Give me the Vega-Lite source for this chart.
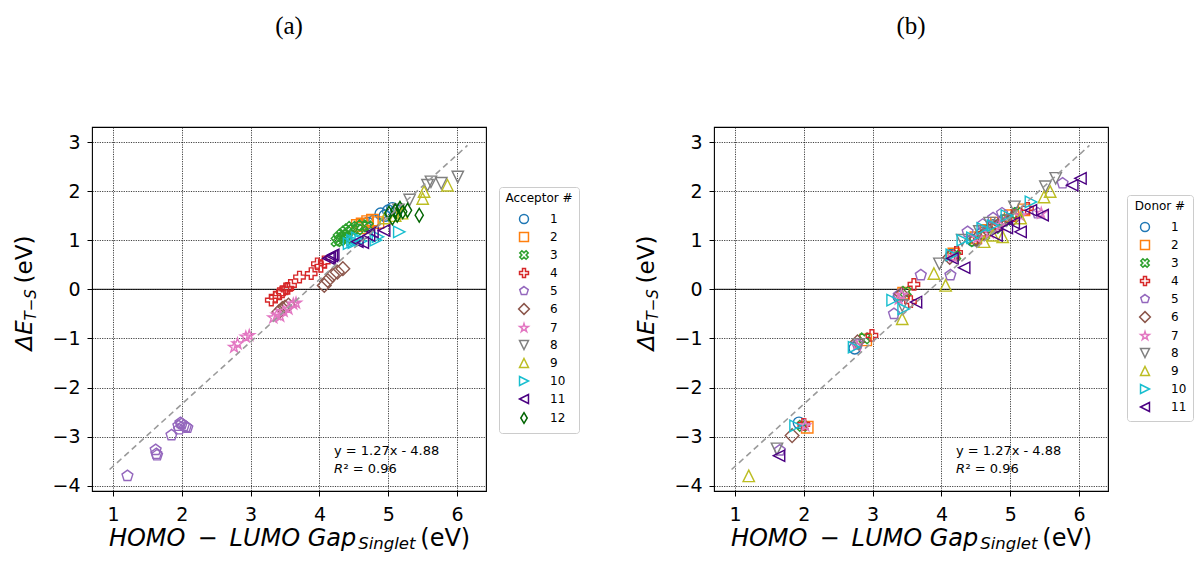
{
  "$schema": "https://vega.github.io/schema/vega-lite/v6.json",
  "padding": {"left": 13, "top": 13, "right": 0, "bottom": 0},
  "background": "white",
  "bounds": "flush",
  "spacing": 228,
  "datasets": {
    "a": [
      {"x":4.8,"y":1.4,"g":"1"},{"x":4.89,"y":1.54,"g":"1"},{"x":4.95,"y":1.5,"g":"1"},{"x":5.0,"y":1.6,"g":"1"},{"x":5.06,"y":1.65,"g":"1"},{"x":5.12,"y":1.6,"g":"1"},{"x":4.7,"y":1.35,"g":"1"},
      {"x":4.55,"y":1.3,"g":"2"},{"x":4.62,"y":1.33,"g":"2"},{"x":4.7,"y":1.38,"g":"2"},{"x":4.77,"y":1.41,"g":"2"},{"x":4.85,"y":1.36,"g":"2"},{"x":4.6,"y":1.25,"g":"2"},
      {"x":4.25,"y":0.98,"g":"3"},{"x":4.28,"y":1.05,"g":"3"},{"x":4.3,"y":1.0,"g":"3"},{"x":4.33,"y":1.12,"g":"3"},{"x":4.36,"y":1.08,"g":"3"},{"x":4.38,"y":1.18,"g":"3"},{"x":4.42,"y":1.22,"g":"3"},{"x":4.47,"y":1.27,"g":"3"},{"x":4.55,"y":1.22,"g":"3"},{"x":4.62,"y":1.3,"g":"3"},{"x":4.7,"y":1.28,"g":"3"},{"x":4.4,"y":1.05,"g":"3"},
      {"x":3.30,"y":-0.22,"g":"4"},{"x":3.36,"y":-0.16,"g":"4"},{"x":3.42,"y":-0.09,"g":"4"},{"x":3.46,"y":-0.05,"g":"4"},{"x":3.51,"y":0.01,"g":"4"},{"x":3.54,"y":0.02,"g":"4"},{"x":3.58,"y":0.08,"g":"4"},{"x":3.71,"y":0.25,"g":"4"},{"x":3.88,"y":0.32,"g":"4"},{"x":3.97,"y":0.52,"g":"4"},{"x":4.07,"y":0.56,"g":"4"},{"x":4.02,"y":0.47,"g":"4"},
      {"x":1.21,"y":-3.8,"g":"5"},{"x":1.62,"y":-3.27,"g":"5"},{"x":1.63,"y":-3.35,"g":"5"},{"x":1.64,"y":-3.38,"g":"5"},{"x":1.85,"y":-2.97,"g":"5"},{"x":1.95,"y":-2.78,"g":"5"},{"x":1.98,"y":-2.72,"g":"5"},{"x":2.0,"y":-2.74,"g":"5"},{"x":2.03,"y":-2.78,"g":"5"},{"x":2.06,"y":-2.8,"g":"5"},{"x":2.08,"y":-2.82,"g":"5"},{"x":1.96,"y":-2.85,"g":"5"},
      {"x":3.41,"y":-0.46,"g":"6"},{"x":3.46,"y":-0.39,"g":"6"},{"x":3.5,"y":-0.36,"g":"6"},{"x":3.55,"y":-0.32,"g":"6"},{"x":4.07,"y":0.08,"g":"6"},{"x":4.12,"y":0.18,"g":"6"},{"x":4.19,"y":0.29,"g":"6"},{"x":4.26,"y":0.35,"g":"6"},{"x":4.34,"y":0.42,"g":"6"},
      {"x":2.76,"y":-1.18,"g":"7"},{"x":2.81,"y":-1.11,"g":"7"},{"x":2.93,"y":-0.97,"g":"7"},{"x":2.98,"y":-0.94,"g":"7"},{"x":3.33,"y":-0.58,"g":"7"},{"x":3.38,"y":-0.52,"g":"7"},{"x":3.43,"y":-0.55,"g":"7"},{"x":3.48,"y":-0.45,"g":"7"},{"x":3.55,"y":-0.4,"g":"7"},{"x":3.62,"y":-0.3,"g":"7"},{"x":3.66,"y":-0.28,"g":"7"},
      {"x":5.15,"y":1.62,"g":"8"},{"x":5.31,"y":1.82,"g":"8"},{"x":5.57,"y":2.12,"g":"8"},{"x":5.62,"y":2.19,"g":"8"},{"x":5.77,"y":2.16,"g":"8"},{"x":6.01,"y":2.29,"g":"8"},
      {"x":4.95,"y":1.45,"g":"9"},{"x":5.1,"y":1.5,"g":"9"},{"x":5.2,"y":1.55,"g":"9"},{"x":5.5,"y":1.85,"g":"9"},{"x":5.52,"y":1.99,"g":"9"},{"x":5.86,"y":2.12,"g":"9"},
      {"x":4.43,"y":0.93,"g":"10"},{"x":4.48,"y":1.0,"g":"10"},{"x":4.5,"y":0.95,"g":"10"},{"x":4.55,"y":1.05,"g":"10"},{"x":4.6,"y":0.98,"g":"10"},{"x":4.82,"y":1.0,"g":"10"},{"x":4.85,"y":1.07,"g":"10"},{"x":5.16,"y":1.17,"g":"10"},
      {"x":4.13,"y":0.63,"g":"11"},{"x":4.15,"y":0.65,"g":"11"},{"x":4.18,"y":0.68,"g":"11"},{"x":4.2,"y":0.7,"g":"11"},{"x":4.55,"y":0.97,"g":"11"},{"x":4.63,"y":0.95,"g":"11"},{"x":4.72,"y":1.1,"g":"11"},{"x":4.77,"y":1.17,"g":"11"},{"x":4.94,"y":1.2,"g":"11"},
      {"x":5.01,"y":1.55,"g":"12"},{"x":5.06,"y":1.45,"g":"12"},{"x":5.1,"y":1.6,"g":"12"},{"x":5.13,"y":1.51,"g":"12"},{"x":5.17,"y":1.65,"g":"12"},{"x":5.21,"y":1.58,"g":"12"},{"x":5.28,"y":1.61,"g":"12"},{"x":5.45,"y":1.51,"g":"12"}
    ],
    "b": [
      {"x":1.93,"y":-2.72,"g":"1"},{"x":2.74,"y":-1.2,"g":"1"},{"x":3.38,"y":-0.15,"g":"1"},{"x":4.15,"y":0.7,"g":"1"},{"x":4.45,"y":1.0,"g":"1"},{"x":4.6,"y":1.15,"g":"1"},{"x":4.75,"y":1.3,"g":"1"},{"x":4.9,"y":1.4,"g":"1"},{"x":5.1,"y":1.55,"g":"1"},
      {"x":2.05,"y":-2.81,"g":"2"},{"x":2.9,"y":-1.03,"g":"2"},{"x":3.45,"y":-0.08,"g":"2"},{"x":4.18,"y":0.72,"g":"2"},{"x":4.5,"y":1.05,"g":"2"},{"x":4.65,"y":1.2,"g":"2"},{"x":4.8,"y":1.35,"g":"2"},{"x":5.0,"y":1.5,"g":"2"},{"x":5.2,"y":1.62,"g":"2"},
      {"x":1.98,"y":-2.78,"g":"3"},{"x":2.88,"y":-1.0,"g":"3"},{"x":3.48,"y":-0.05,"g":"3"},{"x":4.2,"y":0.68,"g":"3"},{"x":4.48,"y":0.98,"g":"3"},{"x":4.62,"y":1.1,"g":"3"},{"x":4.78,"y":1.25,"g":"3"},{"x":4.95,"y":1.42,"g":"3"},{"x":5.1,"y":1.55,"g":"3"},
      {"x":2.0,"y":-2.75,"g":"4"},{"x":2.99,"y":-0.94,"g":"4"},{"x":3.6,"y":0.1,"g":"4"},{"x":3.55,"y":-0.25,"g":"4"},{"x":4.22,"y":0.75,"g":"4"},{"x":4.55,"y":1.05,"g":"4"},{"x":4.7,"y":1.2,"g":"4"},{"x":4.85,"y":1.35,"g":"4"},{"x":5.05,"y":1.5,"g":"4"},{"x":5.25,"y":1.65,"g":"4"},
      {"x":1.65,"y":-3.28,"g":"5"},{"x":2.78,"y":-1.12,"g":"5"},{"x":3.31,"y":-0.5,"g":"5"},{"x":3.38,"y":-0.12,"g":"5"},{"x":3.7,"y":0.29,"g":"5"},{"x":4.13,"y":0.29,"g":"5"},{"x":4.38,"y":1.17,"g":"5"},{"x":4.6,"y":1.32,"g":"5"},{"x":4.75,"y":1.45,"g":"5"},{"x":4.88,"y":1.55,"g":"5"},{"x":5.4,"y":1.55,"g":"5"},{"x":5.76,"y":2.16,"g":"5"},
      {"x":1.83,"y":-2.98,"g":"6"},{"x":2.78,"y":-1.07,"g":"6"},{"x":3.42,"y":-0.1,"g":"6"},{"x":4.12,"y":0.65,"g":"6"},{"x":4.5,"y":1.02,"g":"6"},{"x":4.68,"y":1.2,"g":"6"},{"x":4.82,"y":1.3,"g":"6"},{"x":5.05,"y":1.45,"g":"6"},
      {"x":2.02,"y":-2.78,"g":"7"},{"x":2.77,"y":-1.15,"g":"7"},{"x":3.38,"y":-0.2,"g":"7"},{"x":3.42,"y":-0.12,"g":"7"},{"x":4.17,"y":0.66,"g":"7"},{"x":4.52,"y":1.05,"g":"7"},{"x":4.7,"y":1.15,"g":"7"},{"x":4.85,"y":1.3,"g":"7"},{"x":5.15,"y":1.5,"g":"7"},{"x":5.45,"y":1.55,"g":"7"},
      {"x":1.61,"y":-3.25,"g":"8"},{"x":2.8,"y":-1.12,"g":"8"},{"x":3.43,"y":-0.33,"g":"8"},{"x":3.97,"y":0.52,"g":"8"},{"x":4.3,"y":1.0,"g":"8"},{"x":4.55,"y":1.18,"g":"8"},{"x":4.7,"y":1.35,"g":"8"},{"x":4.95,"y":1.4,"g":"8"},{"x":5.06,"y":1.68,"g":"8"},{"x":5.51,"y":2.09,"g":"8"},{"x":5.66,"y":2.26,"g":"8"},
      {"x":1.2,"y":-3.8,"g":"9"},{"x":3.43,"y":-0.6,"g":"9"},{"x":3.89,"y":0.32,"g":"9"},{"x":4.06,"y":0.08,"g":"9"},{"x":4.62,"y":0.97,"g":"9"},{"x":4.75,"y":1.1,"g":"9"},{"x":4.89,"y":1.07,"g":"9"},{"x":5.15,"y":1.45,"g":"9"},{"x":5.49,"y":1.88,"g":"9"},{"x":5.58,"y":1.99,"g":"9"},
      {"x":1.88,"y":-2.78,"g":"10"},{"x":2.73,"y":-1.18,"g":"10"},{"x":3.29,"y":-0.22,"g":"10"},{"x":3.45,"y":-0.4,"g":"10"},{"x":4.15,"y":0.7,"g":"10"},{"x":4.31,"y":1.0,"g":"10"},{"x":4.45,"y":1.05,"g":"10"},{"x":4.6,"y":1.24,"g":"10"},{"x":4.75,"y":1.3,"g":"10"},{"x":4.95,"y":1.5,"g":"10"},{"x":5.3,"y":1.78,"g":"10"},
      {"x":1.64,"y":-3.39,"g":"11"},{"x":3.63,"y":-0.26,"g":"11"},{"x":4.16,"y":0.63,"g":"11"},{"x":4.33,"y":0.44,"g":"11"},{"x":4.8,"y":1.1,"g":"11"},{"x":4.95,"y":1.25,"g":"11"},{"x":5.05,"y":1.35,"g":"11"},{"x":5.15,"y":1.17,"g":"11"},{"x":5.3,"y":1.61,"g":"11"},{"x":5.47,"y":1.51,"g":"11"},{"x":5.9,"y":2.12,"g":"11"},{"x":6.02,"y":2.26,"g":"11"}
    ],
    "fit": [{"x":0.95,"y":-3.67},{"x":6.15,"y":2.93}]
  },
  "hconcat": [
    {
      "width": 394, "height": 364,
      "title": {"text": "(a)", "anchor": "middle", "frame": "group", "font": "Liberation Serif", "fontSize": 25, "fontWeight": "normal", "offset": 88, "color": "black"},
      "layer": [
        {"data": {"values": [{}]}, "mark": {"type": "rule", "color": "black", "strokeWidth": 1}, "encoding": {"y": {"datum": 0, "type": "quantitative", "scale": {"domain": [-4.108, 3.306], "nice": false, "zero": false}, "axis": {"values": [-4,-3,-2,-1,0,1,2,3], "title": null}}}},
        {"data": {"name": "a"}, "mark": {"type": "point", "filled": false, "strokeWidth": 1.4, "size": 130, "opacity": 1},
         "encoding": {
           "x": {"field": "x", "type": "quantitative", "scale": {"domain": [0.695, 6.42], "nice": false, "zero": false}, "axis": {"values": [1,2,3,4,5,6], "title": null}},
           "y": {"field": "y", "type": "quantitative", "scale": {"domain": [-4.108, 3.306], "nice": false, "zero": false}, "axis": {"values": [-4,-3,-2,-1,0,1,2,3], "title": null}},
           "color": {"field": "g", "type": "nominal", "scale": {"domain": ["1","2","3","4","5","6","7","8","9","10","11","12"], "range": ["#1f77b4","#ff7f0e","#2ca02c","#d62728","#9467bd","#8c564b","#e377c2","#7f7f7f","#bcbd22","#17becf","#4b0082","#006400"]}, "legend": {"title": "Acceptor #", "orient": "none", "legendX": 407, "legendY": 60}},
           "shape": {"field": "g", "type": "nominal", "scale": {"domain": ["1","2","3","4","5","6","7","8","9","10","11","12"], "range": ["circle","square","M0.471,-0.943L0.943,-0.471L0.471,0L0.943,0.471L0.471,0.943L0,0.471L-0.471,0.943L-0.943,0.471L-0.471,0L-0.943,-0.471L-0.471,-0.943L0,-0.471Z","M-0.333,-1L0.333,-1L0.333,-0.333L1,-0.333L1,0.333L0.333,0.333L0.333,1L-0.333,1L-0.333,0.333L-1,0.333L-1,-0.333L-0.333,-0.333Z","M0,-1L0.951,-0.309L0.588,0.809L-0.588,0.809L-0.951,-0.309Z","M0,-1.2L1.2,0L0,1.2L-1.2,0Z","M0,-1L0.2245,-0.309L0.951,-0.309L0.363,0.118L0.588,0.809L0,0.382L-0.588,0.809L-0.363,0.118L-0.951,-0.309L-0.2245,-0.309Z","M0,1L1,-1L-1,-1Z","M0,-1L1,1L-1,1Z","M1,0L-1,-1L-1,1Z","M-1,0L1,-1L1,1Z","M0,-1.2L0.72,0L0,1.2L-0.72,0Z"]}, "legend": {"title": "Acceptor #", "orient": "none", "legendX": 407, "legendY": 60}}
         }},
        {"data": {"name": "fit"}, "mark": {"type": "line", "color": "#9a9a9a", "strokeDash": [6, 4], "strokeWidth": 1.6}, "encoding": {"x": {"field": "x", "type": "quantitative", "axis": {"values": [1,2,3,4,5,6], "title": null}}, "y": {"field": "y", "type": "quantitative", "axis": {"values": [-4,-3,-2,-1,0,1,2,3], "title": null}}}},
        {"data": {"values": [{}]}, "mark": {"type": "text", "text": "y = 1.27x - 4.88", "font": "DejaVu Sans", "fontSize": 13, "align": "left", "baseline": "middle", "color": "black"}, "encoding": {"x": {"datum": 4.21, "type": "quantitative", "axis": {"values": [1,2,3,4,5,6], "title": null}}, "y": {"datum": -3.29, "type": "quantitative", "axis": {"values": [-4,-3,-2,-1,0,1,2,3], "title": null}}}},
        {"data": {"values": [{}]}, "mark": {"type": "text", "text": "R", "font": "DejaVu Sans", "fontStyle": "italic", "fontSize": 13, "align": "left", "baseline": "middle", "color": "black"}, "encoding": {"x": {"datum": 4.21, "type": "quantitative", "axis": {"values": [1,2,3,4,5,6], "title": null}}, "y": {"datum": -3.65, "type": "quantitative", "axis": {"values": [-4,-3,-2,-1,0,1,2,3], "title": null}}}},
        {"data": {"values": [{}]}, "mark": {"type": "text", "text": "² = 0.96", "font": "DejaVu Sans", "fontSize": 13, "align": "left", "baseline": "middle", "dx": 9.5, "color": "black"}, "encoding": {"x": {"datum": 4.21, "type": "quantitative", "axis": {"values": [1,2,3,4,5,6], "title": null}}, "y": {"datum": -3.65, "type": "quantitative", "axis": {"values": [-4,-3,-2,-1,0,1,2,3], "title": null}}}},
        {"data": {"values": [{}]}, "mark": {"type": "text", "text": "HOMO\u2002−\u2002LUMO Gap", "font": "DejaVu Sans", "fontStyle": "italic", "fontSize": 24, "align": "right", "baseline": "alphabetic", "dy": 55, "color": "black"}, "encoding": {"x": {"datum": 4.535, "type": "quantitative", "axis": {"values": [1,2,3,4,5,6], "title": null}}, "y": {"datum": -4.108, "type": "quantitative", "axis": {"values": [-4,-3,-2,-1,0,1,2,3], "title": null}}}},
        {"data": {"values": [{}]}, "mark": {"type": "text", "text": "Singlet", "font": "DejaVu Sans", "fontStyle": "italic", "fontSize": 16.5, "align": "left", "baseline": "alphabetic", "dx": 2, "dy": 58, "color": "black"}, "encoding": {"x": {"datum": 4.535, "type": "quantitative", "axis": {"values": [1,2,3,4,5,6], "title": null}}, "y": {"datum": -4.108, "type": "quantitative", "axis": {"values": [-4,-3,-2,-1,0,1,2,3], "title": null}}}},
        {"data": {"values": [{}]}, "mark": {"type": "text", "text": "(eV)", "font": "DejaVu Sans", "fontSize": 24, "align": "left", "baseline": "alphabetic", "dx": 64, "dy": 55, "color": "black"}, "encoding": {"x": {"datum": 4.535, "type": "quantitative", "axis": {"values": [1,2,3,4,5,6], "title": null}}, "y": {"datum": -4.108, "type": "quantitative", "axis": {"values": [-4,-3,-2,-1,0,1,2,3], "title": null}}}},
        {"data": {"values": [{}]}, "mark": {"type": "text", "text": "ΔE", "font": "DejaVu Sans", "fontStyle": "italic", "fontSize": 23, "angle": 270, "align": "left", "baseline": "alphabetic", "dx": 0, "dy": -60, "color": "black"}, "encoding": {"x": {"datum": 0.695, "type": "quantitative", "axis": {"values": [1,2,3,4,5,6], "title": null}}, "y": {"datum": -1.245, "type": "quantitative", "axis": {"values": [-4,-3,-2,-1,0,1,2,3], "title": null}}}},
        {"data": {"values": [{}]}, "mark": {"type": "text", "text": "T−S", "font": "DejaVu Sans", "fontStyle": "italic", "fontSize": 15, "angle": 270, "align": "left", "baseline": "alphabetic", "dx": 30, "dy": -56, "color": "black"}, "encoding": {"x": {"datum": 0.695, "type": "quantitative", "axis": {"values": [1,2,3,4,5,6], "title": null}}, "y": {"datum": -1.245, "type": "quantitative", "axis": {"values": [-4,-3,-2,-1,0,1,2,3], "title": null}}}},
        {"data": {"values": [{}]}, "mark": {"type": "text", "text": "(eV)", "font": "DejaVu Sans", "fontSize": 23, "angle": 270, "align": "left", "baseline": "alphabetic", "dx": 67, "dy": -60, "color": "black"}, "encoding": {"x": {"datum": 0.695, "type": "quantitative", "axis": {"values": [1,2,3,4,5,6], "title": null}}, "y": {"datum": -1.245, "type": "quantitative", "axis": {"values": [-4,-3,-2,-1,0,1,2,3], "title": null}}}}
      ]
    },
    {
      "width": 394, "height": 364,
      "title": {"text": "(b)", "anchor": "middle", "frame": "group", "font": "Liberation Serif", "fontSize": 25, "fontWeight": "normal", "offset": 88, "color": "black"},
      "layer": [
        {"data": {"values": [{}]}, "mark": {"type": "rule", "color": "black", "strokeWidth": 1}, "encoding": {"y": {"datum": 0, "type": "quantitative", "scale": {"domain": [-4.108, 3.306], "nice": false, "zero": false}, "axis": {"values": [-4,-3,-2,-1,0,1,2,3], "title": null}}}},
        {"data": {"name": "b"}, "mark": {"type": "point", "filled": false, "strokeWidth": 1.4, "size": 130, "opacity": 1},
         "encoding": {
           "x": {"field": "x", "type": "quantitative", "scale": {"domain": [0.695, 6.42], "nice": false, "zero": false}, "axis": {"values": [1,2,3,4,5,6], "title": null}},
           "y": {"field": "y", "type": "quantitative", "scale": {"domain": [-4.108, 3.306], "nice": false, "zero": false}, "axis": {"values": [-4,-3,-2,-1,0,1,2,3], "title": null}},
           "color": {"field": "g", "type": "nominal", "scale": {"domain": ["1","2","3","4","5","6","7","8","9","10","11"], "range": ["#1f77b4","#ff7f0e","#2ca02c","#d62728","#9467bd","#8c564b","#e377c2","#7f7f7f","#bcbd22","#17becf","#4b0082"]}, "legend": {"title": "Donor #", "orient": "none", "legendX": 413, "legendY": 68}},
           "shape": {"field": "g", "type": "nominal", "scale": {"domain": ["1","2","3","4","5","6","7","8","9","10","11"], "range": ["circle","square","M0.471,-0.943L0.943,-0.471L0.471,0L0.943,0.471L0.471,0.943L0,0.471L-0.471,0.943L-0.943,0.471L-0.471,0L-0.943,-0.471L-0.471,-0.943L0,-0.471Z","M-0.333,-1L0.333,-1L0.333,-0.333L1,-0.333L1,0.333L0.333,0.333L0.333,1L-0.333,1L-0.333,0.333L-1,0.333L-1,-0.333L-0.333,-0.333Z","M0,-1L0.951,-0.309L0.588,0.809L-0.588,0.809L-0.951,-0.309Z","M0,-1.2L1.2,0L0,1.2L-1.2,0Z","M0,-1L0.2245,-0.309L0.951,-0.309L0.363,0.118L0.588,0.809L0,0.382L-0.588,0.809L-0.363,0.118L-0.951,-0.309L-0.2245,-0.309Z","M0,1L1,-1L-1,-1Z","M0,-1L1,1L-1,1Z","M1,0L-1,-1L-1,1Z","M-1,0L1,-1L1,1Z"]}, "legend": {"title": "Donor #", "orient": "none", "legendX": 413, "legendY": 68}}
         }},
        {"data": {"name": "fit"}, "mark": {"type": "line", "color": "#9a9a9a", "strokeDash": [6, 4], "strokeWidth": 1.6}, "encoding": {"x": {"field": "x", "type": "quantitative", "axis": {"values": [1,2,3,4,5,6], "title": null}}, "y": {"field": "y", "type": "quantitative", "axis": {"values": [-4,-3,-2,-1,0,1,2,3], "title": null}}}},
        {"data": {"values": [{}]}, "mark": {"type": "text", "text": "y = 1.27x - 4.88", "font": "DejaVu Sans", "fontSize": 13, "align": "left", "baseline": "middle", "color": "black"}, "encoding": {"x": {"datum": 4.21, "type": "quantitative", "axis": {"values": [1,2,3,4,5,6], "title": null}}, "y": {"datum": -3.29, "type": "quantitative", "axis": {"values": [-4,-3,-2,-1,0,1,2,3], "title": null}}}},
        {"data": {"values": [{}]}, "mark": {"type": "text", "text": "R", "font": "DejaVu Sans", "fontStyle": "italic", "fontSize": 13, "align": "left", "baseline": "middle", "color": "black"}, "encoding": {"x": {"datum": 4.21, "type": "quantitative", "axis": {"values": [1,2,3,4,5,6], "title": null}}, "y": {"datum": -3.65, "type": "quantitative", "axis": {"values": [-4,-3,-2,-1,0,1,2,3], "title": null}}}},
        {"data": {"values": [{}]}, "mark": {"type": "text", "text": "² = 0.96", "font": "DejaVu Sans", "fontSize": 13, "align": "left", "baseline": "middle", "dx": 9.5, "color": "black"}, "encoding": {"x": {"datum": 4.21, "type": "quantitative", "axis": {"values": [1,2,3,4,5,6], "title": null}}, "y": {"datum": -3.65, "type": "quantitative", "axis": {"values": [-4,-3,-2,-1,0,1,2,3], "title": null}}}},
        {"data": {"values": [{}]}, "mark": {"type": "text", "text": "HOMO\u2002−\u2002LUMO Gap", "font": "DejaVu Sans", "fontStyle": "italic", "fontSize": 24, "align": "right", "baseline": "alphabetic", "dy": 55, "color": "black"}, "encoding": {"x": {"datum": 4.535, "type": "quantitative", "axis": {"values": [1,2,3,4,5,6], "title": null}}, "y": {"datum": -4.108, "type": "quantitative", "axis": {"values": [-4,-3,-2,-1,0,1,2,3], "title": null}}}},
        {"data": {"values": [{}]}, "mark": {"type": "text", "text": "Singlet", "font": "DejaVu Sans", "fontStyle": "italic", "fontSize": 16.5, "align": "left", "baseline": "alphabetic", "dx": 2, "dy": 58, "color": "black"}, "encoding": {"x": {"datum": 4.535, "type": "quantitative", "axis": {"values": [1,2,3,4,5,6], "title": null}}, "y": {"datum": -4.108, "type": "quantitative", "axis": {"values": [-4,-3,-2,-1,0,1,2,3], "title": null}}}},
        {"data": {"values": [{}]}, "mark": {"type": "text", "text": "(eV)", "font": "DejaVu Sans", "fontSize": 24, "align": "left", "baseline": "alphabetic", "dx": 64, "dy": 55, "color": "black"}, "encoding": {"x": {"datum": 4.535, "type": "quantitative", "axis": {"values": [1,2,3,4,5,6], "title": null}}, "y": {"datum": -4.108, "type": "quantitative", "axis": {"values": [-4,-3,-2,-1,0,1,2,3], "title": null}}}},
        {"data": {"values": [{}]}, "mark": {"type": "text", "text": "ΔE", "font": "DejaVu Sans", "fontStyle": "italic", "fontSize": 23, "angle": 270, "align": "left", "baseline": "alphabetic", "dx": 0, "dy": -60, "color": "black"}, "encoding": {"x": {"datum": 0.695, "type": "quantitative", "axis": {"values": [1,2,3,4,5,6], "title": null}}, "y": {"datum": -1.245, "type": "quantitative", "axis": {"values": [-4,-3,-2,-1,0,1,2,3], "title": null}}}},
        {"data": {"values": [{}]}, "mark": {"type": "text", "text": "T−S", "font": "DejaVu Sans", "fontStyle": "italic", "fontSize": 15, "angle": 270, "align": "left", "baseline": "alphabetic", "dx": 30, "dy": -56, "color": "black"}, "encoding": {"x": {"datum": 0.695, "type": "quantitative", "axis": {"values": [1,2,3,4,5,6], "title": null}}, "y": {"datum": -1.245, "type": "quantitative", "axis": {"values": [-4,-3,-2,-1,0,1,2,3], "title": null}}}},
        {"data": {"values": [{}]}, "mark": {"type": "text", "text": "(eV)", "font": "DejaVu Sans", "fontSize": 23, "angle": 270, "align": "left", "baseline": "alphabetic", "dx": 67, "dy": -60, "color": "black"}, "encoding": {"x": {"datum": 0.695, "type": "quantitative", "axis": {"values": [1,2,3,4,5,6], "title": null}}, "y": {"datum": -1.245, "type": "quantitative", "axis": {"values": [-4,-3,-2,-1,0,1,2,3], "title": null}}}}
      ]
    }
  ],
  "resolve": {"scale": {"color": "independent", "shape": "independent"}, "legend": {"color": "independent", "shape": "independent"}},
  "config": {
    "font": "DejaVu Sans",
    "view": {"stroke": "black", "strokeWidth": 1.1},
    "axis": {
      "domain": false,
      "grid": true, "gridColor": "#111111", "gridWidth": 0.8, "gridDash": [1.2, 1.2], "gridOpacity": 1,
      "ticks": true, "tickColor": "black", "tickSize": 5, "tickWidth": 1,
      "labelFont": "DejaVu Sans", "labelFontSize": 19, "labelColor": "black"
    },
    "axisX": {"labelPadding": 9},
    "axisY": {"labelPadding": 7},
    "legend": {
      "strokeColor": "#cccccc", "fillColor": "white", "cornerRadius": 3, "padding": 6,
      "titleFont": "DejaVu Sans", "titleFontSize": 12, "titleFontWeight": "normal", "titleColor": "black", "titleAnchor": "middle", "titlePadding": 8,
      "labelFont": "DejaVu Sans", "labelFontSize": 12, "labelColor": "black",
      "symbolStrokeWidth": 1.5, "symbolSize": 80, "rowPadding": 2, "labelOffset": 20, "symbolOffset": 6
    }
  }
}
